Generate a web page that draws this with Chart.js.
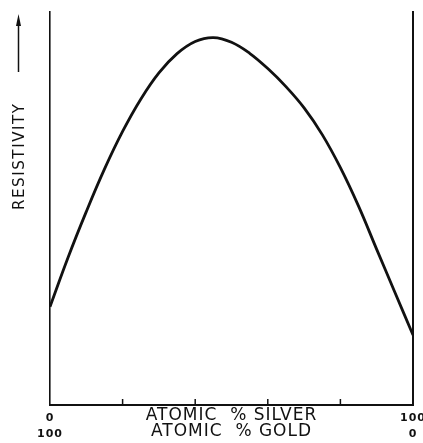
<!DOCTYPE html>
<html>
<head>
<meta charset="utf-8">
<script src="https://cdn.jsdelivr.net/npm/chart.js@4.4.1/dist/chart.umd.min.js"></script>
<style>
  html, body { margin: 0; padding: 0; background: #fff; }
  #wrap { width: 423px; height: 443px; }
</style>
</head>
<body>
<div id="wrap"><canvas id="chart" width="423" height="443"></canvas></div>
<script>
// composition, atomic % silver
const SILVER_PCT = [0, 5, 10, 15, 20, 25, 30, 35, 40, 45, 50, 55, 60, 65, 70, 75, 80, 85, 90, 95, 100];
// resistivity, arbitrary units (axis has no numeric scale)
const RESISTIVITY = [25, 37.6, 49.2, 60, 69.6, 77.8, 84.5, 89.4, 92.5, 93.5, 92.3, 89.5, 85.6, 81, 75.6, 68.8, 60.4, 50.6, 39.6, 28.7, 17.8];
// minor tick marks along the composition axis
const X_MARKS = [20, 40, 60, 80];
// end labels: silver on top row, gold below
const END_LABELS = { 0: ["0", "100"], 100: ["100", "0"] };
const X_TITLE = ["ATOMIC  % SILVER", "ATOMIC  % GOLD"];
const Y_TITLE = "RESISTIVITY";

const INK = "#111";

// wider lettering for the axis captions
const spacing = {
  id: "spacing",
  beforeDraw(chart) {
    chart.ctx.letterSpacing = "1px";
  },
  beforeDatasetsDraw(chart) {
    chart.ctx.letterSpacing = "0px";
  }
};

// short tick marks pointing up into the plot
const innerTicks = {
  id: "innerTicks",
  afterDraw(chart) {
    const { ctx, scales, chartArea } = chart;
    ctx.save();
    ctx.strokeStyle = INK;
    ctx.lineWidth = 1.5;
    X_MARKS.forEach((v) => {
      const x = scales.x.getPixelForValue(v);
      ctx.beginPath();
      ctx.moveTo(x, chartArea.bottom);
      ctx.lineTo(x, chartArea.bottom - 6);
      ctx.stroke();
    });
    ctx.restore();
  }
};

// rotated axis name with the "increasing" arrow
const yLabel = {
  id: "yLabel",
  afterDraw(chart) {
    const { ctx } = chart;
    ctx.save();
    ctx.translate(24, 210);
    ctx.rotate(-Math.PI / 2);
    ctx.font = '15px "DejaVu Sans", sans-serif';
    ctx.letterSpacing = "1.6px";
    ctx.fillStyle = INK;
    ctx.textBaseline = "alphabetic";
    ctx.textAlign = "left";
    ctx.fillText(Y_TITLE, 0, 0);
    // arrow
    ctx.strokeStyle = INK;
    ctx.lineWidth = 1.5;
    ctx.beginPath();
    ctx.moveTo(138, -5.5);
    ctx.lineTo(190, -5.5);
    ctx.stroke();
    ctx.beginPath();
    ctx.moveTo(196, -5.5);
    ctx.lineTo(184, -8);
    ctx.lineTo(184, -3);
    ctx.closePath();
    ctx.fill();
    ctx.restore();
  }
};

new Chart(document.getElementById("chart"), {
  type: "line",
  data: {
    datasets: [
      {
        data: SILVER_PCT.map((x, i) => ({ x, y: RESISTIVITY[i] })),
        borderColor: INK,
        borderWidth: 2.8,
        pointRadius: 0,
        fill: false,
        tension: 0.4
      }
    ]
  },
  options: {
    responsive: false,
    animation: false,
    layout: { padding: { top: 12, left: 0, right: 0, bottom: 0 } },
    plugins: {
      legend: { display: false },
      tooltip: { enabled: false }
    },
    scales: {
      x: {
        type: "linear",
        position: "bottom",
        min: 0,
        max: 100,
        afterBuildTicks(scale) {
          scale.ticks = [{ value: 0 }, { value: 100 }];
        },
        afterFit(scale) {
          scale.height = 38;
          scale.paddingLeft = 0;
          scale.paddingRight = 0;
        },
        grid: { display: false, drawTicks: false },
        border: { display: true, color: INK, width: 2 },
        ticks: {
          autoSkip: false,
          maxRotation: 0,
          padding: 5,
          color: INK,
          font: { family: '"DejaVu Sans", sans-serif', size: 11, weight: "bold", lineHeight: "16px" },
          callback: (value) => END_LABELS[value] || ""
        },
        title: {
          display: true,
          text: X_TITLE,
          color: INK,
          padding: { top: 0, bottom: 3 },
          font: { family: '"DejaVu Sans", sans-serif', size: 17, lineHeight: "16px" }
        }
      },
      y: {
        position: "left",
        min: 0,
        max: 100,
        afterFit(scale) {
          scale.width = 50;
        },
        grid: { display: false, drawTicks: false },
        border: { display: true, color: INK, width: 1.6 },
        ticks: { display: false }
      },
      y2: {
        position: "right",
        min: 0,
        max: 100,
        afterFit(scale) {
          scale.width = 10;
        },
        grid: { display: false, drawTicks: false },
        border: { display: true, color: INK, width: 2 },
        ticks: { display: false }
      }
    }
  },
  plugins: [spacing, innerTicks, yLabel]
});
</script>
</body>
</html>
